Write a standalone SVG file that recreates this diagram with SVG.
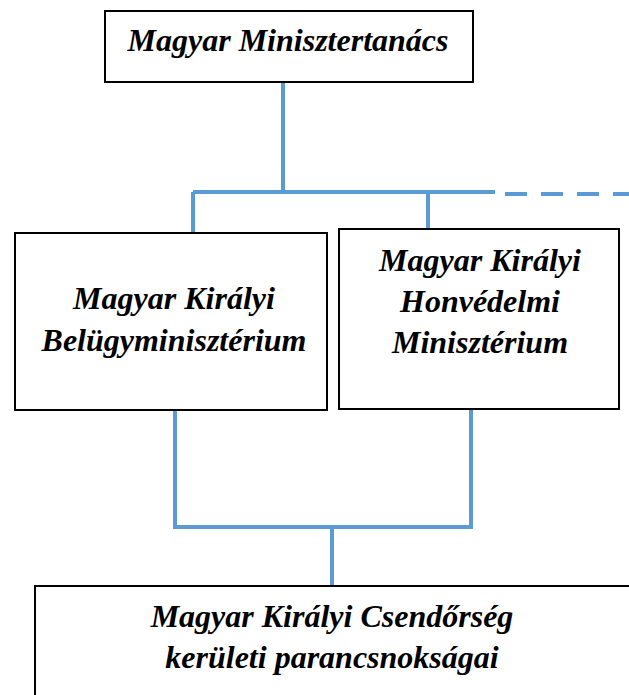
<svg xmlns="http://www.w3.org/2000/svg" width="629" height="695" viewBox="0 0 629 695">
<style>
.box{fill:#fff;stroke:#000;stroke-width:2}
.t{font-family:"Liberation Serif","Times New Roman",serif;font-weight:bold;font-style:italic;font-size:32px;fill:#000;text-anchor:middle}
.c{fill:none;stroke:#5B9BD5;stroke-width:4}
</style>
<rect width="629" height="695" fill="#fff"/>
<g id="connectors">
<path class="c" d="M283,83 V192 M193,192 H495 M193,192 V232 M428,193 V229"/>
<path class="c" d="M505,194 H629" stroke-dasharray="22,14"/>
<path class="c" d="M175,411 V527 H471 V410 M332,527 V586"/>
</g>
<g id="n1">
<rect class="box" x="105" y="11" width="368" height="71"/>
<text class="t" x="288" y="51">Magyar Minisztertanács</text>
</g>
<g id="n2">
<rect class="box" x="15" y="233" width="312" height="177"/>
<text class="t" x="174" y="309">Magyar Királyi</text>
<text class="t" x="174" y="351">Belügyminisztérium</text>
</g>
<g id="n3">
<rect class="box" x="339" y="229" width="280" height="180"/>
<text class="t" x="480" y="271">Magyar Királyi</text>
<text class="t" x="480" y="312">Honvédelmi</text>
<text class="t" x="480" y="353">Minisztérium</text>
</g>
<g id="n4">
<rect class="box" x="35" y="586" width="610" height="130"/>
<text class="t" x="332" y="627">Magyar Királyi Csendőrség</text>
<text class="t" x="332" y="668">kerületi parancsnokságai</text>
</g>
</svg>
